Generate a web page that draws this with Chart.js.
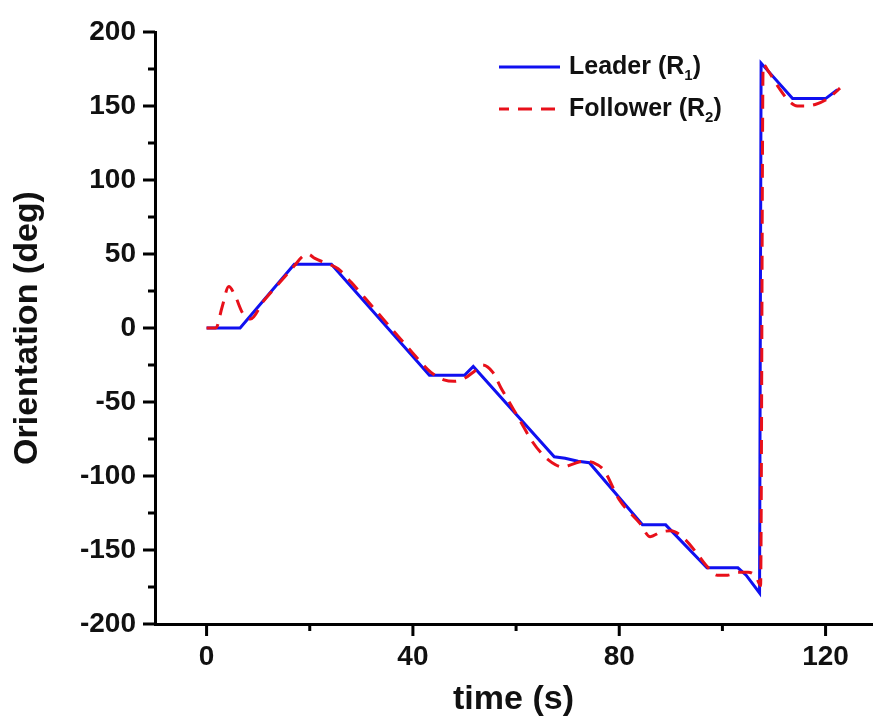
<!DOCTYPE html>
<html>
<head>
<meta charset="utf-8">
<title>Orientation</title>
<script src="https://cdn.jsdelivr.net/npm/chart.js@4.4.1/dist/chart.umd.min.js"></script>
<style>
  html, body { margin: 0; padding: 0; background: #fff; }
  #wrap { width: 873px; height: 724px; }
</style>
</head>
<body>
<div id="wrap"><canvas id="chart" width="873" height="724"></canvas></div>
<script>
// data
const leaderTime = [0, 6.5, 17, 24.2, 43.2, 50, 51.7, 67.4, 69.5, 72, 74.2, 84.5, 89, 97, 103, 104.6, 107.2, 107.5, 113.6, 120, 122.3];
const leaderAngle = [0, 0, 43, 43, -32, -32, -26, -87, -88, -90, -91, -133, -133, -162, -162, -167, -179, 179, 155, 155, 161];

const followerTime = [0, 1.8, 3, 4.3, 5.5, 7, 8.5, 11, 14, 17, 18.5, 19.6, 21, 23, 25.5, 28, 32, 36, 40, 43.5, 46, 48, 50, 52, 53.5, 55.5, 57, 59, 61, 63, 65, 67, 69, 71, 73, 75, 77, 80, 84, 86, 88, 90, 92.5, 95, 97, 99, 101, 103, 105, 106.5, 107.4, 107.9, 109, 111, 113, 114.5, 116, 118, 120, 121.5, 122.8];
const followerAngle = [0, 0, 14, 28, 22, 10, 6, 18, 30, 42, 48, 50, 47, 44, 40, 31, 15, -1, -17, -30, -35, -36, -34, -29, -25, -30, -40, -52, -64, -76, -85, -91, -94, -92, -90, -91, -96, -116, -132, -141, -138, -137, -142, -152, -161, -167, -167, -165, -165, -168, -174, 178, 173, 162, 153, 150, 150, 151, 154, 158, 162];

const xTicks = [0, 20, 40, 60, 80, 100, 120];
const yTicks = [-200, -175, -150, -125, -100, -75, -50, -25, 0, 25, 50, 75, 100, 125, 150, 175, 200];

const seriesNames = ["Leader (R", "Follower (R"];
const seriesSubs = ["1", "2"];

const FONT = "'Liberation Sans', Arial, sans-serif";
const BLUE = "#1010f0";
const RED = "#e8101a";
const DASH = [14, 9];

function toPoints(xs, ys) {
  return xs.map((x, i) => ({ x: x, y: ys[i] }));
}

// tick marks: long for labelled, short for the others
const tickMarks = {
  id: "tickMarks",
  afterDraw(chart) {
    const ctx = chart.ctx;
    const xs = chart.scales.x, ys = chart.scales.y;
    const area = chart.chartArea;
    ctx.save();
    ctx.strokeStyle = "#000";
    ctx.lineWidth = 3;
    ctx.beginPath();
    // x axis runs a little past the y axis
    ctx.moveTo(area.left - 12, area.bottom);
    ctx.lineTo(area.left, area.bottom);
    xTicks.forEach(v => {
      const px = xs.getPixelForValue(v);
      const len = v % 40 === 0 ? 12 : 7;
      ctx.moveTo(px, area.bottom);
      ctx.lineTo(px, area.bottom + len);
    });
    yTicks.forEach(v => {
      const py = ys.getPixelForValue(v);
      const len = v % 50 === 0 ? 12 : 7;
      ctx.moveTo(area.left, py);
      ctx.lineTo(area.left - len, py);
    });
    ctx.stroke();
    ctx.restore();
  }
};

// legend with subscripts
const subLegend = {
  id: "subLegend",
  afterDraw(chart) {
    const ctx = chart.ctx;
    const rows = [
      { y: 67, color: BLUE, dash: [] },
      { y: 109, color: RED, dash: DASH }
    ];
    ctx.save();
    rows.forEach((r, i) => {
      ctx.strokeStyle = r.color;
      ctx.lineWidth = 3;
      ctx.setLineDash(r.dash);
      ctx.lineDashOffset = r.dash.length ? 4 : 0;
      ctx.beginPath();
      ctx.moveTo(499, r.y);
      ctx.lineTo(560, r.y);
      ctx.stroke();
      ctx.setLineDash([]);
      ctx.fillStyle = "#111";
      ctx.textBaseline = "middle";
      ctx.textAlign = "left";
      ctx.font = "bold 25px " + FONT;
      let x = 569;
      ctx.fillText(seriesNames[i], x, r.y);
      x += ctx.measureText(seriesNames[i]).width;
      ctx.font = "bold 15px " + FONT;
      ctx.fillText(seriesSubs[i], x, r.y + 9);
      x += ctx.measureText(seriesSubs[i]).width;
      ctx.font = "bold 25px " + FONT;
      ctx.fillText(")", x, r.y);
    });
    ctx.restore();
  }
};

new Chart(document.getElementById("chart"), {
  type: "line",
  data: {
    datasets: [
      {
        label: "Follower (R2)",
        data: toPoints(followerTime, followerAngle),
        borderColor: RED,
        borderWidth: 3,
        borderDash: DASH,
        pointRadius: 0,
        cubicInterpolationMode: "monotone",
        fill: false,
        order: 0
      },
      {
        label: "Leader (R1)",
        data: toPoints(leaderTime, leaderAngle),
        borderColor: BLUE,
        borderWidth: 3,
        pointRadius: 0,
        tension: 0,
        fill: false,
        order: 1
      }
    ]
  },
  options: {
    responsive: false,
    animation: false,
    layout: { padding: { top: 32, right: 1, left: 0, bottom: 0 } },
    plugins: {
      legend: { display: false },
      tooltip: { enabled: false }
    },
    scales: {
      x: {
        type: "linear",
        min: -10,
        max: 129,
        afterBuildTicks: s => { s.ticks = xTicks.map(v => ({ value: v })); },
        afterFit: s => { s.height = 100; },
        border: { display: true, color: "#000", width: 3 },
        grid: { display: true, drawOnChartArea: false, drawTicks: true, tickLength: 12, color: "transparent" },
        ticks: {
          padding: 4,
          color: "#111",
          font: { family: FONT, size: 28, weight: "bold" },
          callback: v => (v % 40 === 0 ? String(v) : "")
        },
        title: {
          display: true,
          text: "time (s)",
          color: "#111",
          padding: { top: 0 },
          font: { family: FONT, size: 34, weight: "bold" }
        }
      },
      y: {
        type: "linear",
        min: -200,
        max: 200,
        afterBuildTicks: s => { s.ticks = yTicks.map(v => ({ value: v })); },
        afterFit: s => { s.width = 155; },
        border: { display: true, color: "#000", width: 3 },
        grid: { display: true, drawOnChartArea: false, drawTicks: true, tickLength: 12, color: "transparent" },
        ticks: {
          padding: 7,
          color: "#111",
          font: { family: FONT, size: 28, weight: "bold" },
          callback: v => (v % 50 === 0 ? String(v) : "")
        },
        title: {
          display: true,
          text: "Orientation (deg)",
          color: "#111",
          padding: { top: 7, bottom: 0 },
          font: { family: FONT, size: 34, weight: "bold" }
        }
      }
    }
  },
  plugins: [tickMarks, subLegend]
});
</script>
</body>
</html>
